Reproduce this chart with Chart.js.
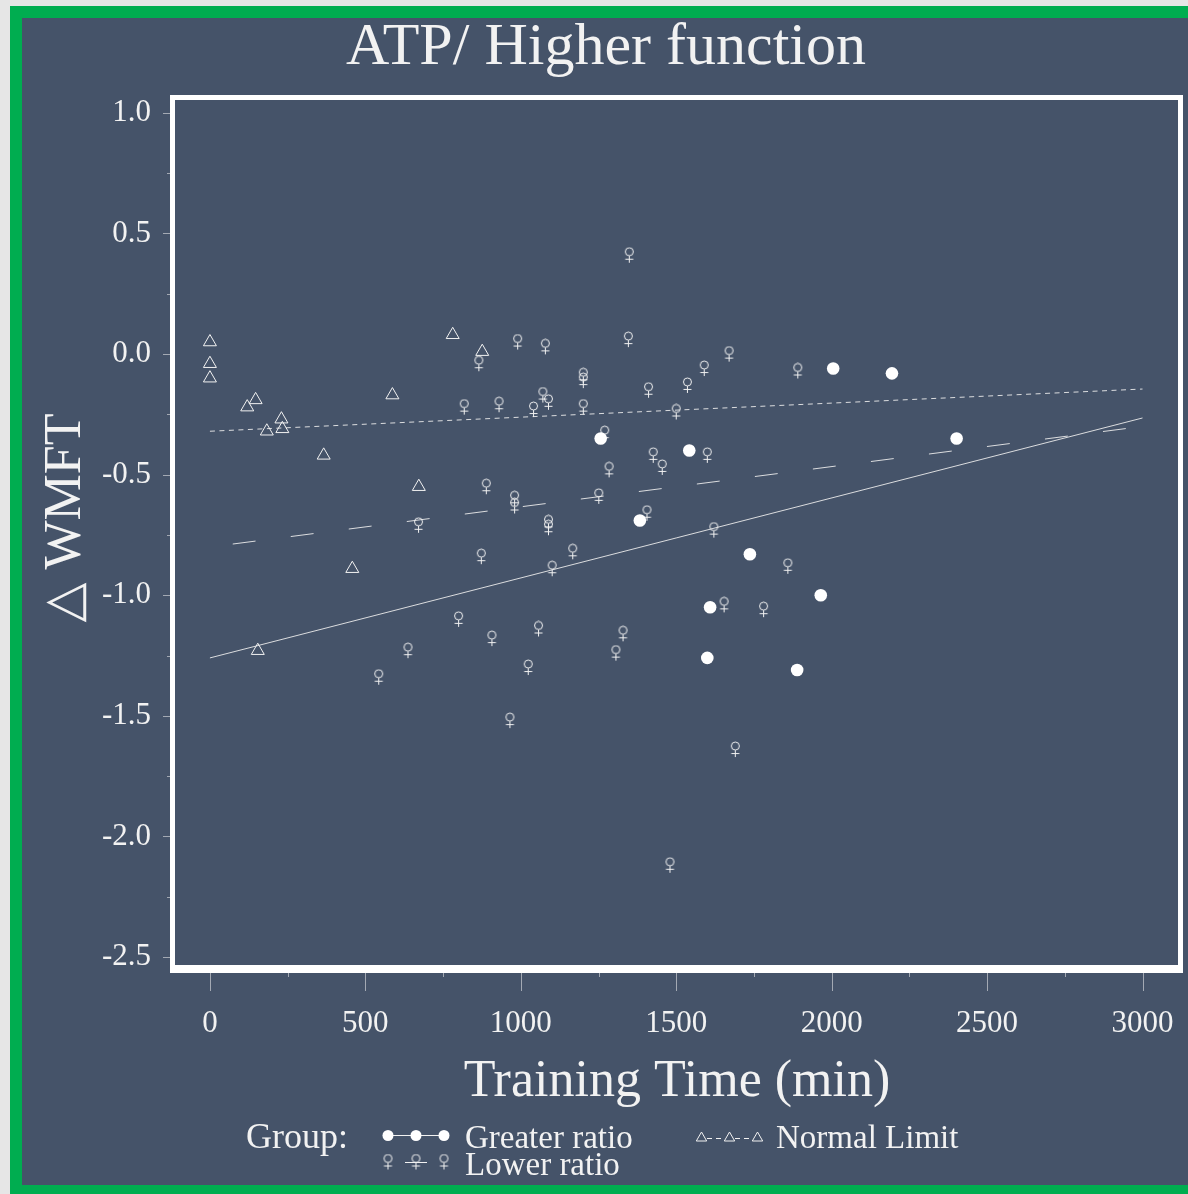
<!DOCTYPE html>
<html>
<head>
<meta charset="utf-8">
<script src="https://cdn.jsdelivr.net/npm/chart.js@4.4.0/dist/chart.umd.min.js"></script>
<style>
	html, body { margin: 0; padding: 0; overflow: hidden; background: #e6e6e6; }
	canvas { display: block; }
</style>
</head>
<body>
<canvas id="chart" width="1188" height="1194"></canvas>
<script>
// Greater ratio group (filled circles)
const greaterX = [1257, 1383, 1542, 1600, 1609, 1737, 1889, 1965, 2005, 2194, 2402]
const greaterY = [-0.35, -0.69, -0.40, -1.26, -1.05, -0.83, -1.31, -1.00, -0.06, -0.08, -0.35]

// Lower ratio group (female symbol)
const lowerX = [865, 818, 930, 990, 889, 980, 980, 671, 873, 1079, 1346, 1670, 1590, 1891, 1201, 1201, 1411, 1536, 1071, 1089, 1041, 1201, 1500, 1270, 1426, 1455, 1600, 1284, 1251, 1089, 1089, 1406, 1167, 1101, 1621, 1859, 1654, 543, 637, 800, 907, 1057, 1024, 965, 1329, 1306, 1781, 1690, 1480, 1349]
const lowerY = [-0.04, -0.22, -0.21, 0.05, -0.55, -0.60, -0.63, -0.71, -0.84, 0.03, 0.06, 0.00, -0.06, -0.07, -0.09, -0.11, -0.15, -0.13, -0.17, -0.20, -0.23, -0.22, -0.24, -0.33, -0.42, -0.47, -0.42, -0.48, -0.59, -0.70, -0.72, -0.66, -0.82, -0.89, -0.73, -0.88, -1.04, -1.34, -1.23, -1.10, -1.18, -1.14, -1.30, -1.52, -1.16, -1.24, -1.06, -1.64, -2.12, 0.41]

// Normal limit group (triangles)
const normalX = [0, 0, 0, 120, 147, 154, 183, 230, 233, 366, 458, 587, 672, 781, 876]
const normalY = [0.05, -0.04, -0.10, -0.22, -0.19, -1.23, -0.32, -0.27, -0.31, -0.42, -0.89, -0.17, -0.55, 0.08, 0.01]

// fitted lines, value at each end of fitX
const fitX = [0, 3000]
const greaterFit = [-1.26, -0.265]
const lowerFit = [-0.80, -0.30]
const normalFit = [-0.32, -0.145]

const xMajor = [0, 500, 1000, 1500, 2000, 2500, 3000]
const yMajor = [-2.5, -2.0, -1.5, -1.0, -0.5, 0.0, 0.5, 1.0]

const BG = '#455369'
const INK = '#f2f2f2'
const TICK = '#a3a9b3'
const SERIF = '"Liberation Serif", "DejaVu Serif", serif'

const toPoints = (xs, ys) => xs.map((x, i) => ({ x: x, y: ys[i] }))

const makeFemale = () => {
	const cv = document.createElement('canvas')
	cv.width = 13
	cv.height = 17
	const c = cv.getContext('2d')
	c.strokeStyle = INK
	c.lineWidth = 1
	c.beginPath()
	c.arc(6.5, 5, 4, 0, Math.PI * 2)
	c.stroke()
	c.beginPath()
	c.moveTo(6.5, 9)
	c.lineTo(6.5, 16)
	c.moveTo(2.5, 12.5)
	c.lineTo(10.5, 12.5)
	c.stroke()
	return cv
}
const female = makeFemale()

const drawTriangle = (c, x, y, r) => {
	const w = r * Math.sqrt(3) / 2
	c.beginPath()
	c.moveTo(x, y - r)
	c.lineTo(x + w, y + r / 2)
	c.lineTo(x - w, y + r / 2)
	c.closePath()
	c.stroke()
}

const decor = {
	id: 'decor',
	beforeDraw(chart) {
		const c = chart.ctx
		c.save()
		c.fillStyle = '#e6e6e6'
		c.fillRect(0, 0, 1188, 1194)
		c.fillStyle = '#00ad50'
		c.fillRect(10, 6, 1200, 1200)
		c.fillStyle = BG
		c.fillRect(22, 18, 1200, 1185 - 18)
		c.restore()
	},
	afterDraw(chart) {
		const c = chart.ctx
		const xs = chart.scales.x, ys = chart.scales.y
		c.save()
		// plot frame
		c.fillStyle = '#ffffff'
		c.fillRect(170, 95, 5, 878)
		c.fillRect(170, 95, 1013, 5)
		c.fillRect(1178, 95, 5, 878)
		c.fillRect(170, 965, 1013, 8)

		// tick marks
		c.strokeStyle = TICK
		c.lineWidth = 1
		c.beginPath()
		xMajor.forEach(v => {
			const px = Math.round(xs.getPixelForValue(v)) + 0.5
			c.moveTo(px, 973); c.lineTo(px, 991)
			if (v < 3000) {
				const pm = Math.round(xs.getPixelForValue(v + 250)) + 0.5
				c.moveTo(pm, 973); c.lineTo(pm, 977)
			}
		})
		yMajor.forEach(v => {
			const py = Math.round(ys.getPixelForValue(v)) + 0.5
			c.moveTo(163, py); c.lineTo(170, py)
			if (v < 1.0) {
				const pm = Math.round(ys.getPixelForValue(v + 0.25)) + 0.5
				c.moveTo(167, pm); c.lineTo(170, pm)
			}
		})
		c.stroke()

		// titles
		c.fillStyle = INK
		c.textBaseline = 'alphabetic'
		c.textAlign = 'center'
		c.font = '60px ' + SERIF
		c.fillText('ATP/ Higher function', 606, 64)
		c.font = '52px ' + SERIF
		c.fillText('Training Time (min)', 677, 1096)
		c.save()
		c.translate(80, 518)
		c.rotate(-Math.PI / 2)
		c.fillText('\u25B3 WMFT', 0, 0)
		c.restore()

		// legend
		c.textAlign = 'left'
		c.font = '36px ' + SERIF
		c.fillText('Group:', 246, 1148)
		c.font = '33px ' + SERIF
		c.fillText('Greater ratio', 465, 1148)
		c.fillText('Lower ratio', 465, 1175)
		c.fillText('Normal Limit', 776, 1148)

		c.strokeStyle = INK
		c.fillStyle = '#ffffff'
		c.beginPath()
		c.moveTo(388, 1135.5); c.lineTo(444, 1135.5)
		c.stroke()
		;[388, 416, 444].forEach(x => {
			c.beginPath()
			c.arc(x, 1135.5, 5.5, 0, Math.PI * 2)
			c.fill()
		})
		;[388, 416, 444].forEach(x => c.drawImage(female, x - 6.5, 1162 - 8.5))
		c.beginPath()
		c.moveTo(405, 1162.5); c.lineTo(427, 1162.5)
		c.stroke()
		;[701, 729, 757].forEach(x => drawTriangle(c, x + 0.5, 1138, 6))
		c.setLineDash([5, 4])
		c.beginPath()
		c.moveTo(707, 1138.5); c.lineTo(723, 1138.5)
		c.moveTo(735, 1138.5); c.lineTo(751, 1138.5)
		c.stroke()
		c.restore()
	}
}

new Chart(document.getElementById('chart'), {
	type: 'scatter',
	data: {
		datasets: [
			{
				label: 'Greater ratio',
				data: toPoints(greaterX, greaterY),
				pointStyle: 'circle',
				pointRadius: 6.3,
				backgroundColor: '#ffffff',
				borderColor: '#ffffff',
				borderWidth: 0,
			},
			{
				label: 'Lower ratio',
				data: toPoints(lowerX, lowerY),
				pointStyle: female,
				pointRadius: 6,
			},
			{
				label: 'Normal Limit',
				data: toPoints(normalX, normalY),
				pointStyle: 'triangle',
				pointRadius: 7.5,
				backgroundColor: 'rgba(0,0,0,0)',
				borderColor: INK,
				borderWidth: 1,
			},
			{
				type: 'line',
				label: 'Greater fit',
				data: toPoints(fitX, greaterFit),
				borderColor: 'rgba(235,235,235,0.9)',
				borderWidth: 1,
				pointRadius: 0,
			},
			{
				type: 'line',
				label: 'Lower fit',
				data: toPoints(fitX, lowerFit),
				borderColor: 'rgba(235,235,235,0.9)',
				borderWidth: 1,
				borderDash: [23, 35.5],
				borderDashOffset: 35.5,
				pointRadius: 0,
			},
			{
				type: 'line',
				label: 'Normal fit',
				data: toPoints(fitX, normalFit),
				borderColor: 'rgba(235,235,235,0.9)',
				borderWidth: 1,
				borderDash: [5, 4.5],
				pointRadius: 0,
			},
		]
	},
	options: {
		responsive: false,
		animation: false,
		devicePixelRatio: 1,
		layout: { padding: { top: 97, right: 7, bottom: 0, left: 0 } },
		plugins: {
			legend: { display: false },
			title: { display: false },
			tooltip: { enabled: false },
		},
		scales: {
			x: {
				type: 'linear',
				min: -122,
				max: 3119,
				afterFit: scale => {
					scale.height = 1194 - 969
					scale.paddingLeft = 0
					scale.paddingRight = 0
				},
				afterBuildTicks: scale => { scale.ticks = xMajor.map(v => ({ value: v })) },
				grid: { display: false, drawTicks: false },
				border: { display: false },
				ticks: {
					autoSkip: false,
					maxRotation: 0,
					padding: 36,
					color: INK,
					font: { family: SERIF, size: 31 },
					callback: v => String(v),
				},
			},
			y: {
				type: 'linear',
				min: -2.55,
				max: 1.066,
				afterFit: scale => {
					scale.width = 172
					scale.paddingTop = 0
					scale.paddingBottom = 0
				},
				afterBuildTicks: scale => { scale.ticks = yMajor.map(v => ({ value: v })) },
				grid: { display: false, drawTicks: false },
				border: { display: false },
				ticks: {
					autoSkip: false,
					padding: 21,
					color: INK,
					font: { family: SERIF, size: 31 },
					callback: v => v.toFixed(1),
				},
			},
		}
	},
	plugins: [decor]
})
</script>
</body>
</html>
